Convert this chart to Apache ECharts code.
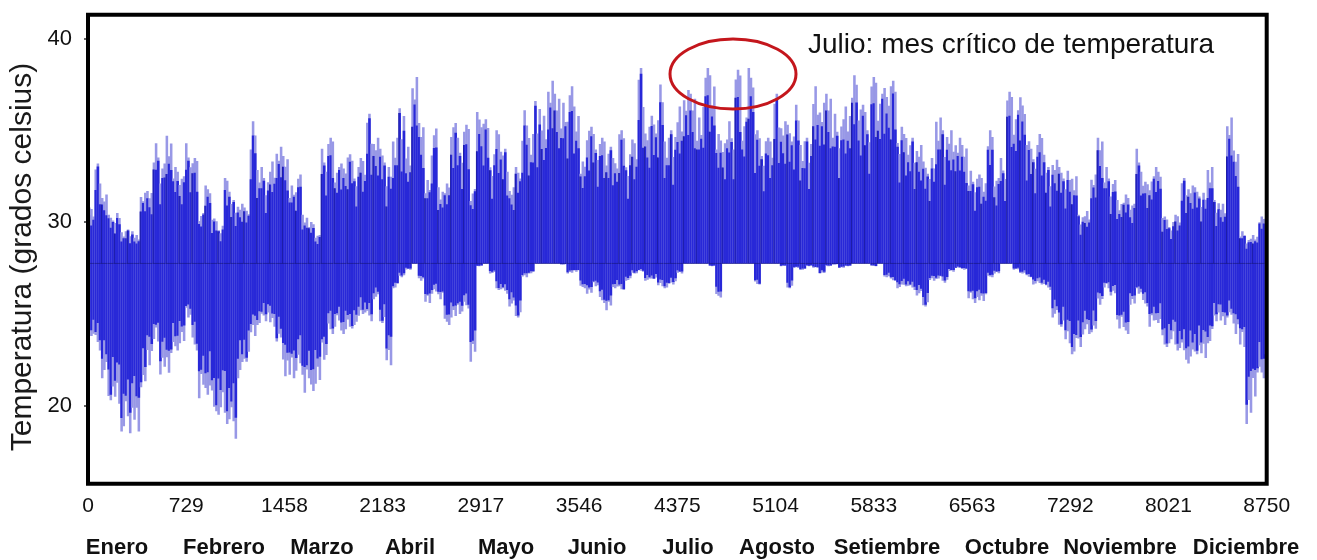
<!DOCTYPE html>
<html>
<head>
<meta charset="utf-8">
<script src="https://cdn.jsdelivr.net/npm/echarts@6.0.0/dist/echarts.min.js"></script>
<style>
  html, body { margin: 0; padding: 0; background: #ffffff; }
  #chart { width: 1317px; height: 560px; }
</style>
</head>
<body>
<div id="chart"></div>
<script>
// ---- DATA ----
// Each value covers a 48-hour block of the year (hour index on the x axis).
const binHours = 48;
const baseTemp = 27.75;   // bars hang from this baseline
const tmax = [
  30.8, 33.2, 31.5, 30.4, 30.5, 29.5, 29.6, 29.3, 31.6, 31.7,
  34.3, 33.2, 34.7, 33.0, 32.5, 34.3, 33.5, 30.5, 32.0, 30.2,
  29.8, 32.4, 31.2, 31.0, 30.8, 35.5, 33.0, 32.4, 33.3, 34.1,
  33.6, 32.0, 32.6, 30.4, 30.0, 29.3, 34.0, 34.6, 33.0, 33.2,
  33.7, 33.0, 33.5, 35.9, 34.6, 34.0, 33.0, 34.6, 36.2, 34.1,
  37.9, 35.4, 32.3, 35.1, 31.9, 32.1, 35.4, 34.6, 35.3, 31.8,
  36.0, 35.6, 33.7, 35.0, 34.0, 31.9, 33.0, 36.1, 34.8, 36.6,
  35.8, 37.7, 37.0, 36.5, 37.4, 36.3, 33.3, 35.2, 34.8, 34.6,
  34.1, 33.5, 35.0, 33.7, 34.5, 38.4, 35.2, 35.8, 37.5, 34.6,
  35.0, 36.3, 37.2, 37.0, 35.7, 38.4, 38.0, 34.8, 34.5, 35.5,
  38.3, 35.7, 38.4, 35.0, 34.4, 34.6, 37.0, 35.5, 35.3, 36.4,
  34.4, 34.6, 37.4, 36.5, 37.0, 35.9, 35.6, 36.3, 38.0, 36.4,
  36.0, 37.9, 37.0, 37.3, 37.7, 35.2, 34.8, 34.6, 34.2, 33.3,
  33.5, 35.7, 35.0, 35.0, 34.6, 34.2, 32.8, 32.6, 32.4, 35.0,
  32.4, 33.5, 37.1, 36.1, 36.8, 34.4, 34.2, 34.8, 33.0, 33.4,
  33.0, 32.8, 32.5, 30.4, 30.6, 32.6, 34.6, 33.0, 32.3, 31.2,
  31.5, 31.0, 34.0, 32.2, 32.5, 33.0, 30.3, 30.0, 30.4, 32.4,
  32.0, 31.9, 31.6, 33.0, 31.2, 31.0, 35.7, 33.9, 29.5, 29.1,
  29.3, 30.3, 30.5
];
const tmin = [
  23.8, 23.0, 21.5, 20.3, 20.1, 18.6, 18.5, 18.6, 21.0, 22.2,
  23.5, 21.7, 21.8, 23.0, 23.4, 24.8, 23.0, 20.4, 20.6, 19.7,
  19.5, 19.0, 18.2, 21.5, 22.4, 23.8, 24.4, 24.6, 24.3, 23.5,
  21.6, 21.5, 21.9, 20.7, 20.8, 21.2, 22.5, 23.9, 24.3, 23.9,
  24.2, 24.4, 25.0, 24.6, 25.8, 24.5, 22.2, 26.4, 27.0, 27.4,
  27.9, 26.8, 25.6, 26.1, 25.8, 24.4, 24.8, 25.0, 25.3, 22.4,
  27.6, 27.9, 27.2, 26.3, 26.1, 25.4, 24.8, 27.0, 27.2, 28.4,
  28.6, 28.8, 28.6, 27.7, 27.2, 27.3, 26.4, 26.1, 26.5, 25.6,
  25.2, 26.4, 26.3, 26.8, 27.2, 27.3, 26.8, 26.9, 26.5, 26.4,
  26.6, 27.2, 28.1, 28.0, 28.2, 27.8, 27.6, 25.9, 28.5, 28.6,
  27.9, 28.0, 27.8, 26.6, 27.9, 28.0, 27.9, 27.6, 26.4, 27.5,
  27.4, 27.6, 27.5, 27.2, 27.6, 27.7, 27.5, 27.6, 27.9, 27.8,
  27.9, 27.6, 27.8, 27.0, 26.8, 26.4, 26.5, 26.3, 26.0, 25.4,
  26.8, 26.9, 26.7, 27.3, 27.5, 27.4, 25.8, 25.6, 25.7, 27.0,
  27.2, 28.4, 28.6, 27.4, 27.2, 27.0, 26.6, 26.6, 26.3, 24.8,
  24.3, 23.4, 22.8, 23.2, 23.9, 24.0, 25.5, 26.4, 26.0, 24.2,
  23.9, 25.5, 26.1, 25.4, 24.3, 24.5, 23.2, 23.4, 23.0, 22.5,
  22.3, 22.8, 22.6, 23.4, 24.6, 24.4, 24.8, 23.9, 23.2, 19.0,
  20.5, 21.5, 22.8
];
const xTickLabels = ['0', '729', '1458', '2183', '2917', '3546', '4375', '5104', '5833', '6563', '7292', '8021', '8750'];
const yTickValues = [20, 30, 40];
const monthNames = ['Enero', 'Febrero', 'Marzo', 'Abril', 'Mayo', 'Junio', 'Julio', 'Agosto', 'Setiembre', 'Octubre', 'Noviembre', 'Diciembre'];
const yAxisTitle = 'Temperatura (grados celsius)';
const noteText = 'Julio: mes crítico de temperatura';

// ---- LAYOUT / STYLE ----
const xMax = 8750;
const xStep = xMax / (xTickLabels.length - 1);
const xTickPositions = xTickLabels.map((_, i) => i * xStep);
const monthLabelX = [117, 224, 322, 410, 506, 597, 688, 777, 887, 1007, 1120, 1246];
const DARK = '#2828d8';
const LIGHT = '#9898e6';
const EDGE = '#141470';
// texture of each block: split into thin columns whose extents vary a little
// (one column always reaches the block's max, one its min)
const colCount = 3;
const lightUp   = [0.9, 0.97, 0.84, 0.94, 0.88, 0.8, 0.95];
const lightDown = [0.93, 0.86, 0.97, 0.82, 0.9, 0.95, 0.85];
const darkUp    = [0.86, 0.7, 0.93, 0.78, 0.97, 0.74, 0.9];
const darkDown  = [0.72, 0.92, 0.8, 0.96, 0.76, 0.88, 0.83];

const G = { left: 88, top: 14.7, right: 50.3, bottom: 76.3 };

const chart = echarts.init(document.getElementById('chart'), null, { renderer: 'canvas' });

const seriesData = tmax.map((v, i) => [i * binHours, v, tmin[i]]);

const option = {
  animation: false,
  backgroundColor: '#ffffff',
  grid: { left: G.left, top: G.top, right: G.right, bottom: G.bottom, show: false },
  xAxis: {
    type: 'value',
    min: 0,
    max: xMax,
    axisLine: { show: false },
    splitLine: { show: false },
    axisTick: { show: false },
    axisLabel: {
      customValues: xTickPositions,
      margin: 12,
      fontFamily: 'Liberation Sans, Arial, sans-serif',
      fontSize: 21,
      color: '#111',
      formatter: function (v) {
        const idx = Math.round(v / xStep);
        return xTickLabels[idx] !== undefined ? xTickLabels[idx] : '';
      }
    }
  },
  yAxis: {
    type: 'value',
    min: 15.75,
    max: 41.3,
    axisLine: { show: false },
    splitLine: { show: false },
    axisTick: {
      show: true,
      customValues: yTickValues,
      length: 4,
      lineStyle: { color: '#333', width: 1.5 }
    },
    axisLabel: {
      customValues: yTickValues,
      margin: 16,
      fontFamily: 'Liberation Sans, Arial, sans-serif',
      fontSize: 22,
      color: '#111'
    }
  },
  series: [{
    type: 'custom',
    clip: true,
    data: seriesData,
    encode: { x: 0, y: [1, 2] },
    renderItem: function (params, api) {
      const i = params.dataIndex;
      const t0 = api.value(0);
      const hi = Math.max(api.value(1), baseTemp);
      const lo = Math.min(api.value(2), baseTemp);
      const pB = api.coord([t0, baseTemp]);
      const xL = pB[0];
      const xR = api.coord([t0 + binHours, baseTemp])[0];
      const yB = pB[1];
      const yHi = api.coord([t0, hi])[1];
      const yLo = api.coord([t0, lo])[1];
      const cw = (xR - xL) / colCount;
      const children = [];
      for (let k = 0; k < colCount; k++) {
        const j = (i * colCount + k) % lightUp.length;
        const lu = (k === i % colCount) ? 1 : lightUp[j];
        const ld = (k === (i + 1) % colCount) ? 1 : lightDown[j];
        const du = darkUp[j] * lu;
        const dd = darkDown[j] * ld;
        const x = xL + k * cw;
        const yTopL = yB + (yHi - yB) * lu;
        const yBotL = yB + (yLo - yB) * ld;
        children.push({ type: 'rect', shape: { x: x, y: yTopL, width: cw + 0.4, height: yBotL - yTopL },
          style: { fill: LIGHT } });
        const yTopD = yB + (yHi - yB) * du;
        const yBotD = yB + (yLo - yB) * dd;
        if (yBotD - yTopD > 0.3) {
          children.push({ type: 'rect', shape: { x: x, y: yTopD, width: cw + 0.4, height: yBotD - yTopD },
            style: { fill: DARK } });
        }
        if (k === 0 && i % 2 === 0 && (yHi < yB - 4)) {
          children.push({ type: 'line', shape: { x1: x + 0.5, y1: yTopD, x2: x + 0.5, y2: yB },
            style: { stroke: EDGE, lineWidth: 0.8, opacity: 0.6 } });
        }
      }
      children.push({ type: 'line', shape: { x1: xL, y1: yB, x2: xR, y2: yB },
        style: { stroke: EDGE, lineWidth: 1, opacity: 0.55 } });
      return { type: 'group', children: children };
    },
    z: 2
  }],
  graphic: [
    {
      type: 'rect',
      z: 100,
      shape: { x: G.left, y: G.top, width: 1317 - G.left - G.right, height: 560 - G.top - G.bottom },
      style: { fill: null, stroke: '#000', lineWidth: 4 }
    },
    {
      type: 'text',
      z: 100,
      x: 23, y: 257,
      rotation: Math.PI / 2,
      style: {
        text: yAxisTitle,
        font: '30px "Liberation Sans", Arial, sans-serif',
        fill: '#1a1a1a',
        textAlign: 'center',
        textVerticalAlign: 'middle'
      }
    },
    {
      type: 'text',
      z: 100,
      x: 808, y: 45.5,
      style: {
        text: noteText,
        font: '28px "Liberation Sans", Arial, sans-serif',
        fill: '#111',
        textAlign: 'left',
        textVerticalAlign: 'middle'
      }
    },
    {
      type: 'ellipse',
      z: 100,
      shape: { cx: 733, cy: 74, rx: 63, ry: 35 },
      style: { fill: null, stroke: '#c4161c', lineWidth: 3 }
    }
  ].concat(monthNames.map((m, i) => ({
    type: 'text',
    z: 100,
    x: monthLabelX[i], y: 548,
    style: {
      text: m,
      font: 'bold 22px "Liberation Sans", Arial, sans-serif',
      fill: '#111',
      textAlign: 'center',
      textVerticalAlign: 'middle'
    }
  })))
};

chart.setOption(option);
</script>
</body>
</html>
